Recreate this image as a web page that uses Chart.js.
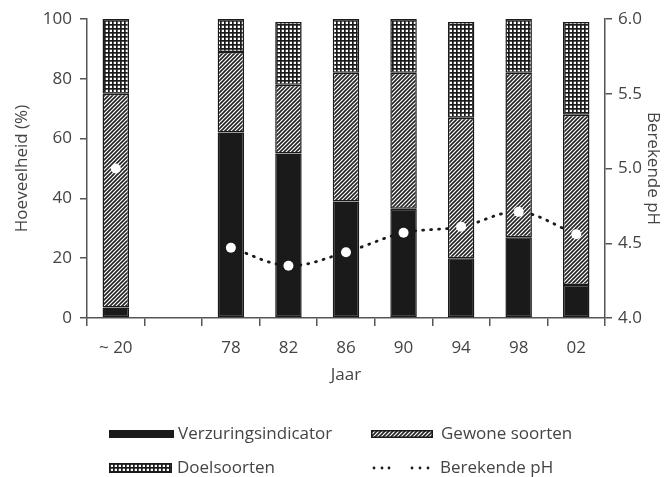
<!DOCTYPE html>
<html>
<head>
<meta charset="utf-8">
<script src="https://cdn.jsdelivr.net/npm/chart.js@4.4.1/dist/chart.umd.min.js"></script>
<style>
  body { margin: 0; background: #fff; }
  #wrap { position: relative; width: 668px; height: 390px; }
  .legend { position: absolute; left: 0; top: 0; width: 668px; height: 477px; font: 17px 'Open Sans', sans-serif; color: #444; pointer-events: none; }
  .item { position: absolute; height: 22px; line-height: 22px; white-space: nowrap; }
  .item canvas { position: absolute; }
  .item span { position: absolute; }
</style>
</head>
<body>
<div id="wrap"><canvas id="chart"></canvas></div>
<div class="legend">
  <div class="item" style="left:109px;top:422px"><canvas id="sw0" width="65" height="9" style="left:0;top:7px"></canvas><span style="left:69px">Verzuringsindicator</span></div>
  <div class="item" style="left:371px;top:422px"><canvas id="sw1" width="62" height="9" style="left:0;top:7px"></canvas><span style="left:70px">Gewone soorten</span></div>
  <div class="item" style="left:109px;top:456px"><canvas id="sw2" width="63" height="10" style="left:0;top:7px"></canvas><span style="left:68px">Doelsoorten</span></div>
  <div class="item" style="left:371px;top:456px"><canvas id="sw3" width="62" height="9" style="left:0;top:7px"></canvas><span style="left:69px">Berekende pH</span></div>
</div>
<script>
// categories (empty slot between ~20 and 78)
const years = ["~ 20", "", "78", "82", "86", "90", "94", "98", "02"];

// percentages per group
const verzuring = [3.5, null, 62, 55, 39, 36.5, 20, 27, 11];
const gewone = [71.5, null, 27, 23, 43, 45.5, 47, 55, 57];
const doel = [25, null, 11, 21, 18, 18, 32, 18, 31];

// berekende pH (right axis)
const ph = [5.0, null, 4.47, 4.35, 4.44, 4.57, 4.61, 4.71, 4.56];

const pctTicks = [0, 20, 40, 60, 80, 100];
const phTicks = [4.0, 4.5, 5.0, 5.5, 6.0];

const ink = "#1a1a1a";
const textCol = "#444";

function hatchPattern(ctx) {
  const c = document.createElement("canvas");
  c.width = 4; c.height = 4;
  const g = c.getContext("2d");
  g.fillStyle = "#fff";
  g.fillRect(0, 0, 4, 4);
  g.strokeStyle = "#222";
  g.lineWidth = 1.6;
  g.beginPath();
  g.moveTo(-1, 5); g.lineTo(5, -1);
  g.moveTo(-1, 1); g.lineTo(1, -1);
  g.moveTo(3, 5); g.lineTo(5, 3);
  g.stroke();
  return ctx.createPattern(c, "repeat");
}

function gridPattern(ctx) {
  const c = document.createElement("canvas");
  c.width = 4; c.height = 4;
  const g = c.getContext("2d");
  g.fillStyle = ink;
  g.fillRect(0, 0, 4, 4);
  g.fillStyle = "#fff";
  g.fillRect(1.7, 1.7, 2.3, 2.3);
  return ctx.createPattern(c, "repeat");
}

const ctx = document.getElementById("chart").getContext("2d");

Chart.defaults.font.family = "'Open Sans', sans-serif";
Chart.defaults.font.size = 17;
Chart.defaults.color = textCol;

const axisBorder = { display: true, color: "#555", width: 1.5 };

new Chart(ctx, {
  type: "bar",
  data: {
    labels: years,
    datasets: [
      {
        type: "line",
        label: "Berekende pH",
        data: ph,
        yAxisID: "y1",
        order: 10,
        borderColor: ink,
        borderWidth: 2.8,
        borderDash: [1, 7],
        borderCapStyle: "round",
        tension: 0.35,
        pointRadius: 0,
        spanGaps: false,
        fill: false,
      },
      {
        label: "Verzuringsindicator",
        data: verzuring,
        backgroundColor: ink,
        borderColor: ink,
        borderWidth: 1.5,
        borderSkipped: false,
        order: 1,
      },
      {
        label: "Gewone soorten",
        data: gewone,
        backgroundColor: hatchPattern(ctx),
        borderColor: ink,
        borderWidth: 1.5,
        borderSkipped: false,
        order: 1,
      },
      {
        label: "Doelsoorten",
        data: doel,
        backgroundColor: gridPattern(ctx),
        borderColor: ink,
        borderWidth: 1.5,
        borderSkipped: false,
        order: 1,
      },
      {
        type: "line",
        label: "pH punten",
        data: ph,
        yAxisID: "y1",
        order: -1,
        showLine: false,
        pointRadius: 5,
        pointBackgroundColor: "#fff",
        pointBorderWidth: 0,
        pointBorderColor: "#fff",
      },
    ],
  },
  options: {
    responsive: true,
    maintainAspectRatio: false,
    animation: false,
    barPercentage: 0.46,
    categoryPercentage: 1,
    layout: { padding: { top: 19, left: 0, right: 0, bottom: 0 } },
    plugins: { legend: { display: false }, tooltip: { enabled: false } },
    scales: {
      x: {
        stacked: true,
        afterFit: s => { s.height = 72; },
        border: axisBorder,
        grid: { offset: true, drawOnChartArea: false, drawTicks: true, tickLength: 8, color: "#555", lineWidth: 1.5 },
        ticks: { padding: 12, maxRotation: 0, autoSkip: false },
        title: { display: true, text: "Jaar", color: textCol, padding: { top: 0, bottom: 5 } },
      },
      y: {
        stacked: true,
        position: "left",
        min: 0,
        max: 100,
        afterFit: s => { s.width = 87; },
        afterBuildTicks: s => { s.ticks = pctTicks.map(v => ({ value: v })); },
        border: axisBorder,
        grid: { drawOnChartArea: false, drawTicks: true, tickLength: 7, color: "#555", lineWidth: 1.5 },
        ticks: { padding: 8 },
        title: { display: true, text: "Hoeveelheid (%)", color: textCol, padding: { top: 12 } },
      },
      y1: {
        position: "right",
        min: 4,
        max: 6,
        afterFit: s => { s.width = 63; },
        afterBuildTicks: s => { s.ticks = phTicks.map(v => ({ value: v })); },
        border: axisBorder,
        grid: { drawOnChartArea: false, drawTicks: true, tickLength: 7, color: "#555", lineWidth: 1.5 },
        ticks: { padding: 6, callback: v => Number(v).toFixed(1) },
        title: { display: true, text: "Berekende pH", color: textCol, padding: { top: 5 } },
      },
    },
  },
});

// legend swatches
(function () {
  const s0 = document.getElementById("sw0").getContext("2d");
  s0.fillStyle = ink; s0.fillRect(0, 1, 65, 8);
  const s1 = document.getElementById("sw1").getContext("2d");
  s1.fillStyle = hatchPattern(s1); s1.fillRect(0, 1, 62, 8);
  s1.strokeStyle = ink; s1.lineWidth = 1.5; s1.strokeRect(0.75, 1.75, 60.5, 6.5);
  const s2 = document.getElementById("sw2").getContext("2d");
  s2.fillStyle = gridPattern(s2); s2.fillRect(0, 0, 63, 10);
  s2.strokeStyle = ink; s2.lineWidth = 1.5; s2.strokeRect(0.75, 0.75, 61.5, 8.5);
  const s3 = document.getElementById("sw3").getContext("2d");
  s3.fillStyle = ink;
  [3, 11, 18, 41, 49, 57].forEach(x => { s3.beginPath(); s3.arc(x, 5, 1.4, 0, Math.PI * 2); s3.fill(); });
})();
</script>
</body>
</html>
